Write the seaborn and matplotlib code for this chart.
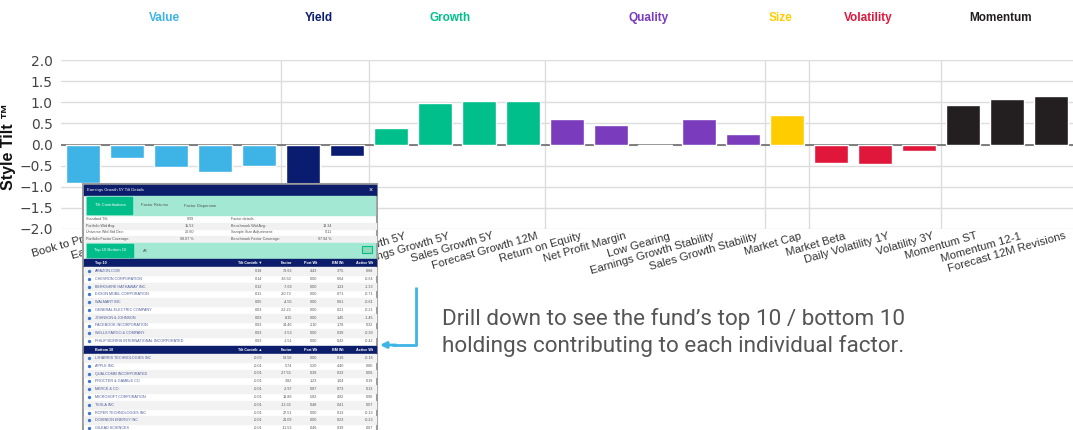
import numpy as np
import pandas as pd
import matplotlib
matplotlib.use('Agg')
import matplotlib.pyplot as plt
import matplotlib.transforms as mtransforms
from matplotlib.patches import Rectangle
import seaborn as sns

# 因子名称、所属分组、风格倾斜值
factors = ['Book to Price', 'Earnings Yield', 'Sales to Price', 'Cash Flow Yield', 'EBITDA to EV',
           'Dividend Yield', 'Buyback Yield',
           'Dividend Growth 5Y', 'Earnings Growth 5Y', 'Sales Growth 5Y', 'Forecast Growth 12M',
           'Return on Equity', 'Net Profit Margin', 'Low Gearing', 'Earnings Growth Stability',
           'Sales Growth Stability',
           'Market Cap',
           'Market Beta', 'Daily Volatility 1Y', 'Volatility 3Y',
           'Momentum ST', 'Momentum 12-1', 'Forecast 12M Revisions']
groups = (['Value'] * 5 + ['Yield'] * 2 + ['Growth'] * 4 + ['Quality'] * 5 + ['Size']
          + ['Volatility'] * 3 + ['Momentum'] * 3)
tilts = [-0.90, -0.33, -0.54, -0.64, -0.50,
         -0.95, -0.27,
         0.40, 0.98, 1.03, 1.03,
         0.60, 0.46, -0.04, 0.60, 0.26,
         0.70,
         -0.44, -0.47, -0.15,
         0.94, 1.08, 1.14]
group_names = ['Value', 'Yield', 'Growth', 'Quality', 'Size', 'Volatility', 'Momentum']
group_colors = ['#3db3e6', '#0a1c70', '#00bf8b', '#7a3bbd', '#ffcc00', '#e0173b', '#231f20']

# 弹窗中的明细数据
popup_title = 'Earnings Growth 5Y Tilt Details'
info_left = [('Standard Tilt:', '0.99'), ('Portfolio Wtd Avg:', '15.53'),
             ('Universe Wtd Std Dev:', '20.60'), ('Portfolio Factor Coverage:', '98.07 %')]
info_right = [('Factor details:', ''), ('Benchmark Wtd Avg:', '13.34'),
              ('Sample Size Adjustment:', '0.11'), ('Benchmark Factor Coverage:', '97.94 %')]
table_cols = ['Tilt Contrib', 'Factor', 'Port Wt', 'BM Wt', 'Active Wt']
top_names = ['AMAZON.COM', 'CHEVRON CORPORATION', 'BERKSHIRE HATHAWAY INC.', 'EXXON MOBIL CORPORATION',
             'WALMART INC', 'GENERAL ELECTRIC COMPANY', 'JOHNSON & JOHNSON', 'FACEBOOK INCORPORATION',
             'WELLS FARGO & COMPANY', 'PHILIP MORRIS INTERNATIONAL INCORPORATED']
top_values = [['0.18', '73.63', '4.43', '3.75', '0.68'],
              ['0.14', '-36.50', '0.00', '0.64', '-0.64'],
              ['0.12', '-7.69', '0.00', '1.33', '-1.33'],
              ['0.11', '-20.73', '0.00', '0.71', '-0.71'],
              ['0.05', '-4.55', '0.00', '0.61', '-0.61'],
              ['0.03', '-22.25', '0.00', '0.21', '-0.21'],
              ['0.03', '8.15', '0.00', '1.45', '-1.45'],
              ['0.03', '34.46', '2.10', '1.78', '0.32'],
              ['0.03', '-3.53', '0.00', '0.39', '-0.39'],
              ['0.03', '-1.51', '0.00', '0.42', '-0.42']]
bottom_names = ['L3HARRIS TECHNOLOGIES INC', 'APPLE INC.', 'QUALCOMM INCORPORATED', 'PROCTER & GAMBLE CO',
                'MERCK & CO.', 'MICROSOFT CORPORATION', 'TESLA INC', 'ROPER TECHNOLOGIES INC',
                'DOMINION ENERGY INC', 'GILEAD SCIENCES']
bottom_values = [['-0.03', '53.58', '0.00', '0.16', '-0.16'],
                 ['-0.01', '5.74', '5.20', '4.40', '0.80'],
                 ['-0.01', '-27.55', '0.39', '0.33', '0.06'],
                 ['-0.01', '3.82', '1.23', '1.04', '0.19'],
                 ['-0.01', '-2.97', '0.87', '0.73', '0.13'],
                 ['-0.01', '13.86', '5.82', '4.92', '0.90'],
                 ['-0.01', '-13.32', '0.48', '0.41', '0.07'],
                 ['-0.01', '27.51', '0.00', '0.13', '-0.13'],
                 ['-0.01', '21.09', '0.00', '0.23', '-0.23'],
                 ['-0.01', '-11.53', '0.46', '0.39', '0.07']]
note_lines = ['Drill down to see the fund\u2019s top 10 / bottom 10',
              'holdings contributing to each individual factor.']

df = pd.DataFrame({'factor': factors, 'group': groups, 'tilt': tilts})

sns.set_style('white')
plt.rcParams['font.family'] = ['Liberation Sans', 'DejaVu Sans']

W, H = 1073, 430
fig = plt.figure(figsize=(W / 100, H / 100), dpi=100)
ax = fig.add_axes([61 / W, 1 - 229 / H, (W - 61) / W, (229 - 60) / H])

sns.barplot(data=df, x='factor', y='tilt', hue='group', order=factors, hue_order=group_names,
            palette=dict(zip(group_names, group_colors)), dodge=False, width=0.77,
            saturation=1, legend=False, ax=ax, zorder=2)
ax.set_xlim(-0.5, 22.3)
ax.set_ylim(-2, 2)
for s in ax.spines.values():
    s.set_visible(False)

# 网格与分组分隔线
yt = np.arange(-2, 2.01, 0.5)
ax.set_yticks(yt)
ax.set_yticklabels([f'{v:.1f}'.replace('-', '\u2212') for v in yt], family='DejaVu Sans')
ax.yaxis.grid(True, color='#dddddd', lw=1)
ax.set_axisbelow(True)
ax.axhline(0, color='#6b6b6b', lw=1.2, zorder=1.5)
pos = np.arange(len(factors))
for g in group_names[:-1]:
    last = max(i for i in pos if groups[i] == g)
    ax.axvline(last + 0.5, color='#dddddd', lw=1, zorder=0)
ax.tick_params(axis='y', length=0, pad=6, labelsize=10, labelcolor='#444444')
ax.set_xlabel('')
ax.set_ylabel('')

# x 轴标签，旋转并略向右偏移
ax.set_xticks(pos)
ax.set_xticklabels(factors, rotation=16, ha='right', rotation_mode='anchor', fontsize=8.2, color='#333333')
ax.set_xticks(pos + 0.5, minor=True)
ax.tick_params(axis='x', which='major', length=0, pad=1.5)
ax.tick_params(axis='x', which='minor', length=5, color='#cccccc', width=1)
shift = mtransforms.ScaledTranslation(0.13, 0, fig.dpi_scale_trans)
for lab in ax.get_xticklabels():
    lab.set_transform(lab.get_transform() + shift)

# 顶部分组标题
trans = mtransforms.blended_transform_factory(ax.transData, fig.transFigure)
for g, c in zip(group_names, group_colors):
    idx = [i for i in pos if groups[i] == g]
    ax.text(np.mean(idx) - 0.15, 1 - 18 / H, g, transform=trans, ha='center', va='center',
            color=c, fontsize=8.5, fontweight='bold', clip_on=False)

# 覆盖层（像素坐标），画 y 轴标题、弹窗和注释
ov = fig.add_axes([0, 0, 1, 1], zorder=5)
ov.set_xlim(0, W)
ov.set_ylim(H, 0)
ov.axis('off')

ov.text(9, 146, 'Style Tilt \u2122', rotation=90, ha='center', va='center',
        fontsize=11.5, fontweight='bold', color='#111111')

navy = '#0b1d6b'
mint = '#a3e8d2'
green = '#00bd8a'
name_c = '#4d5d9c'
num_c = '#555555'
fs = 2.7
L, R = 84, 376

ov.add_patch(Rectangle((83, 184), 294, 250, facecolor='white', edgecolor='#9c9c9c', lw=1.5))
ov.add_patch(Rectangle((L, 185), R - L, 10, color=navy))
ov.text(87, 190, popup_title, color='white', fontsize=3, va='center')
ov.text(371, 190, '\u00d7', color='white', fontsize=5, va='center', ha='center')

# 第一排标签页
ov.add_patch(Rectangle((86, 196), R - 87, 19, color=mint))
ov.add_patch(Rectangle((87, 197), 45, 17, color=green))
ov.text(110, 205.5, 'Tilt Contributions', color='white', fontsize=3, ha='center', va='center')
ov.text(141, 205.5, 'Factor Returns', color='#555555', fontsize=3, va='center')
ov.text(184, 205.5, 'Factor Dispersion', color='#555555', fontsize=3, va='center')

# 基本信息
for k, ((la, va), (lb, vb)) in enumerate(zip(info_left, info_right)):
    y0 = 216 + 6.5 * k
    if k % 2 == 1:
        ov.add_patch(Rectangle((L, y0), R - L, 6.5, color='#f1f1f1'))
    ov.text(86, y0 + 3.3, la, fontsize=fs, color=num_c, va='center')
    ov.text(194, y0 + 3.3, va, fontsize=fs, color=num_c, va='center', ha='right')
    ov.text(231, y0 + 3.3, lb, fontsize=fs, color=num_c, va='center')
    ov.text(332, y0 + 3.3, vb, fontsize=fs, color=num_c, va='center', ha='right')

# 第二排标签页
ov.add_patch(Rectangle((86, 243), R - 87, 15, color=mint))
ov.add_patch(Rectangle((87, 244), 46, 13, color=green))
ov.text(110, 250.5, 'Top 10 Bottom 10', color='white', fontsize=3, ha='center', va='center')
ov.text(143, 250.5, 'All', color='#555555', fontsize=3, va='center')
ov.add_patch(Rectangle((362, 246), 10, 7, facecolor='#8fd9b9', edgecolor=green, lw=0.8))

col_right = [262, 292, 317, 344, 373]


def draw_block(y_head, title, arrow, names, values):
    ov.add_patch(Rectangle((L, y_head), R - L, 8, color=navy))
    ov.text(95, y_head + 4, title, color='white', fontsize=fs, va='center', fontweight='bold')
    heads = [table_cols[0] + ' ' + arrow] + table_cols[1:]
    for hx, h in zip(col_right, heads):
        ov.text(hx, y_head + 4, h, color='white', fontsize=fs, va='center', ha='right',
                fontweight='bold', family=['Liberation Sans', 'DejaVu Sans'])
    for k, (nm, vals) in enumerate(zip(names, values)):
        y0 = y_head + 8 + 7.8 * k
        if k % 2 == 0:
            ov.add_patch(Rectangle((L, y0), R - L, 7.8, color='#f2f2f2'))
        ov.plot(89, y0 + 3.9, marker='o', ms=1.4, color='#3a78d6')
        ov.text(95, y0 + 3.9, nm, fontsize=fs, color=name_c, va='center')
        for hx, v in zip(col_right, vals):
            ov.text(hx, y0 + 3.9, v, fontsize=fs, color=num_c, va='center', ha='right')


draw_block(259, 'Top 10', '\u25bc', top_names, top_values)
draw_block(346, 'Bottom 10', '\u25b2', bottom_names, bottom_values)

# 注释文字和指示箭头
ov.plot([416, 416, 392], [287, 345, 345], color='#3db3e6', lw=2, solid_capstyle='butt')
ov.annotate('', xy=(380, 345), xytext=(396, 345),
            arrowprops=dict(arrowstyle='-|>', color='#3db3e6', lw=2, mutation_scale=9, shrinkA=0, shrinkB=0))
ov.text(442, 325, note_lines[0], family='Roboto', fontsize=16.2, color='#555555', va='baseline')
ov.text(442, 352, note_lines[1], family='Roboto', fontsize=16.2, color='#555555', va='baseline')

fig.savefig('out.png', dpi=100)
